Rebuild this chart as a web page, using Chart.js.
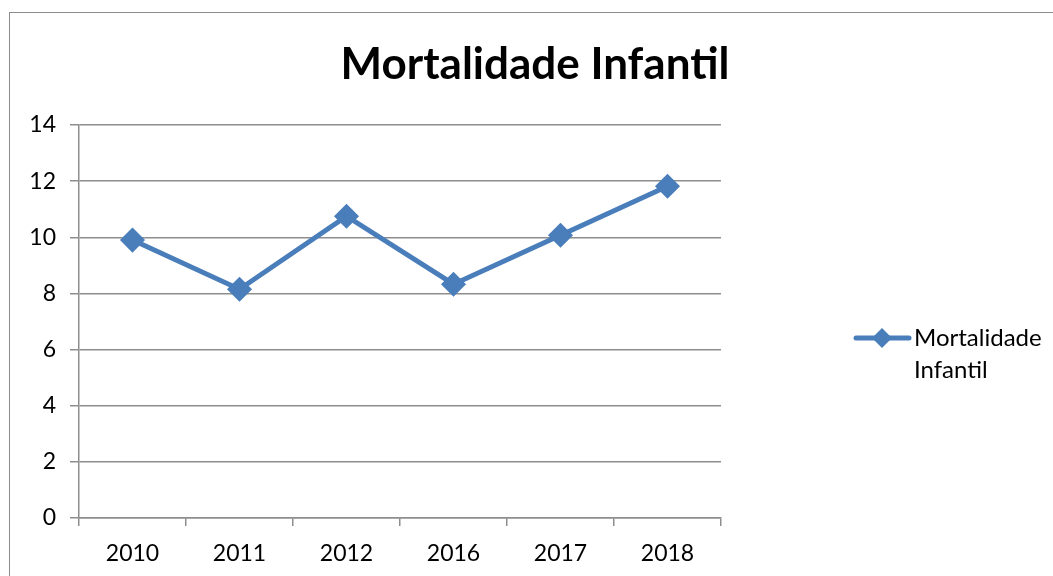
<!DOCTYPE html>
<html>
<head>
<meta charset="utf-8">
<script src="https://cdn.jsdelivr.net/npm/chart.js@4.4.1/dist/chart.umd.min.js"></script>
<style>
  html, body { margin: 0; padding: 0; background: #fff; overflow: hidden; }
  #wrap { position: relative; width: 1053px; height: 576px; }
  #frame { position: absolute; left: 9px; top: 12px; width: 1100px; height: 600px; border: 1.5px solid #8c8c8c; box-sizing: border-box; }
  canvas { position: absolute; left: 0; top: 0; }
</style>
</head>
<body>
<div id="wrap">
  <div id="frame"></div>
  <canvas id="chart" width="1053" height="576"></canvas>
</div>
<script>
const title = 'Mortalidade Infantil';
const years = ['2010', '2011', '2012', '2016', '2017', '2018'];
const mortalidade = [9.9, 8.15, 10.75, 8.33, 10.07, 11.82];
const legendLines = ['Mortalidade', 'Infantil'];

const FONT = "Lato, 'Open Sans', sans-serif";
const BLUE = '#4a7ebb';
const GRID = '#8e8e8e';

// title + legend drawn by hand (legend wraps on two lines in the original)
const overlay = {
  id: 'overlay',
  afterDraw(chart) {
    const ctx = chart.ctx;
    const ds = chart.data.datasets[0];
    ctx.save();
    ctx.fillStyle = '#000';
    ctx.font = 'bold 44px ' + FONT;
    ctx.textAlign = 'center';
    ctx.textBaseline = 'middle';
    ctx.fillText(title, 535, 65);

    // legend sample
    const ly = 338;
    ctx.strokeStyle = ds.borderColor;
    ctx.lineWidth = 5;
    ctx.lineCap = 'round';
    ctx.beginPath();
    ctx.moveTo(856, ly);
    ctx.lineTo(909, ly);
    ctx.stroke();
    ctx.fillStyle = ds.pointBackgroundColor;
    ctx.beginPath();
    ctx.moveTo(882, ly - 10);
    ctx.lineTo(892, ly);
    ctx.lineTo(882, ly + 10);
    ctx.lineTo(872, ly);
    ctx.closePath();
    ctx.fill();

    ctx.fillStyle = '#000';
    ctx.font = '24px ' + FONT;
    ctx.textAlign = 'left';
    legendLines.forEach((t, i) => ctx.fillText(t, 914, ly + i * 32));
    ctx.restore();
  }
};

new Chart(document.getElementById('chart'), {
  type: 'line',
  data: {
    labels: years,
    datasets: [{
      label: title,
      data: mortalidade,
      borderColor: BLUE,
      backgroundColor: BLUE,
      pointBackgroundColor: BLUE,
      pointBorderColor: BLUE,
      borderWidth: 5,
      pointStyle: 'rectRot',
      pointRadius: 9,
      pointHoverRadius: 9,
      tension: 0
    }]
  },
  options: {
    responsive: false,
    animation: false,
    layout: { padding: { top: 125, right: 332, bottom: 0, left: 0 } },
    plugins: {
      legend: { display: false },
      title: { display: false },
      tooltip: { enabled: false }
    },
    scales: {
      x: {
        offset: true,
        grid: { offset: true, drawOnChartArea: false, drawTicks: true, tickLength: 8, color: GRID, lineWidth: 1.5 },
        border: { color: GRID, width: 1.5 },
        ticks: { color: '#000', font: { family: FONT, size: 23 }, padding: 14, maxRotation: 0 },
        afterFit: s => { s.height = 58; }
      },
      y: {
        min: 0, max: 14,
        ticks: { stepSize: 2, color: '#000', font: { family: FONT, size: 23 }, padding: 14 },
        grid: { color: GRID, lineWidth: 1.5, tickLength: 9 },
        border: { color: GRID, width: 1.5 },
        afterFit: s => { s.width = 79; }
      }
    }
  },
  plugins: [overlay]
});
</script>
</body>
</html>
